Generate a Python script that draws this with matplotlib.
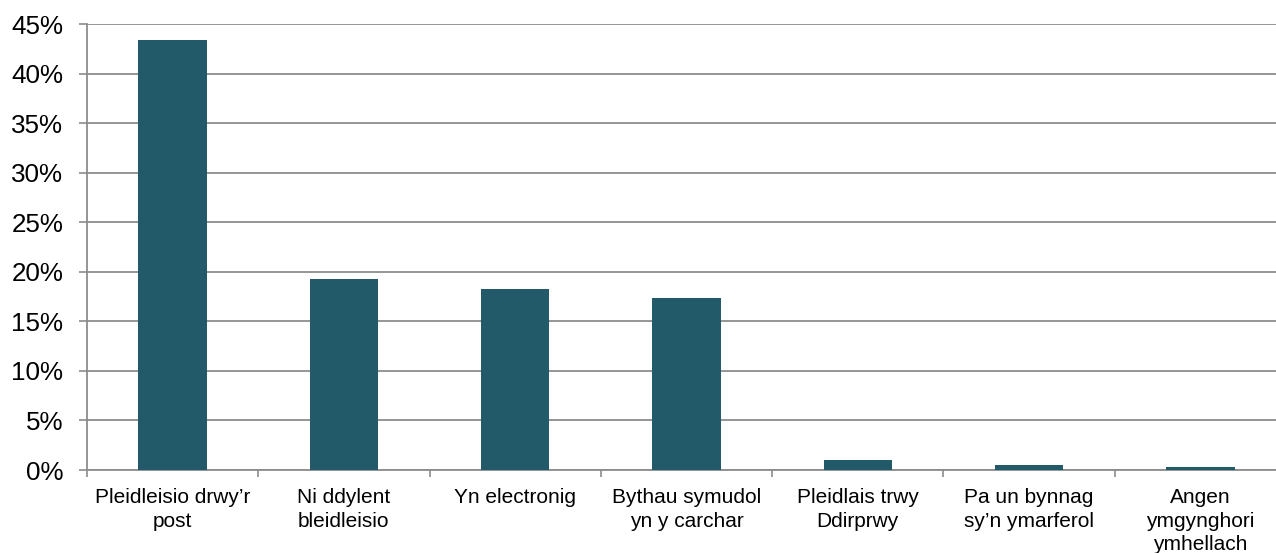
import matplotlib
matplotlib.use("Agg")
import matplotlib.pyplot as plt
import numpy as np

categories = [
    "Pleidleisio drwy\u2019r\npost",
    "Ni ddylent\nbleidleisio",
    "Yn electronig",
    "Bythau symudol\nyn y carchar",
    "Pleidlais trwy\nDdirprwy",
    "Pa un bynnag\nsy\u2019n ymarferol",
    "Angen\nymgynghori\nymhellach",
]
values = [43.4, 19.3, 18.3, 17.4, 1.0, 0.5, 0.3]
yticks = [0, 5, 10, 15, 20, 25, 30, 35, 40, 45]

plt.rcParams['font.family'] = ['Liberation Sans', 'DejaVu Sans']

W, H = 1276, 553
fig = plt.figure(figsize=(W / 100, H / 100), dpi=100)
left, right, bottom, top = 87, 1286, 470, 24
ax = fig.add_axes([left / W, (H - bottom) / H, (right - left) / W, (bottom - top) / H])

x = np.arange(len(categories))
ax.bar(x, values, width=0.4, color='#235a69', zorder=3)

ax.set_xlim(-0.5, len(categories) - 0.5)
ax.set_ylim(0, 45)
ax.set_yticks(yticks)
ax.set_yticklabels([f"{v}%" for v in yticks], fontsize=18.7, color='black')
ax.yaxis.grid(True, color='#8c8c8c', linewidth=1.3, zorder=0)
ax.tick_params(axis='y', length=6, width=1.2, color='#8c8c8c', pad=11)

ax.set_xticks(x)
ax.set_xticklabels(categories, fontsize=15, color='black', linespacing=1.3, va='top')
ax.set_xticks(np.arange(len(categories) + 1) - 0.5, minor=True)
ax.tick_params(axis='x', which='major', length=0, pad=13)
ax.tick_params(axis='x', which='minor', length=5, width=1.2, color='#8c8c8c', direction='out')

for s in ['top', 'right']:
    ax.spines[s].set_visible(False)
for s in ['left', 'bottom']:
    ax.spines[s].set_color('#8c8c8c')
    ax.spines[s].set_linewidth(1.3)

fig.savefig('out.png', dpi=100)
